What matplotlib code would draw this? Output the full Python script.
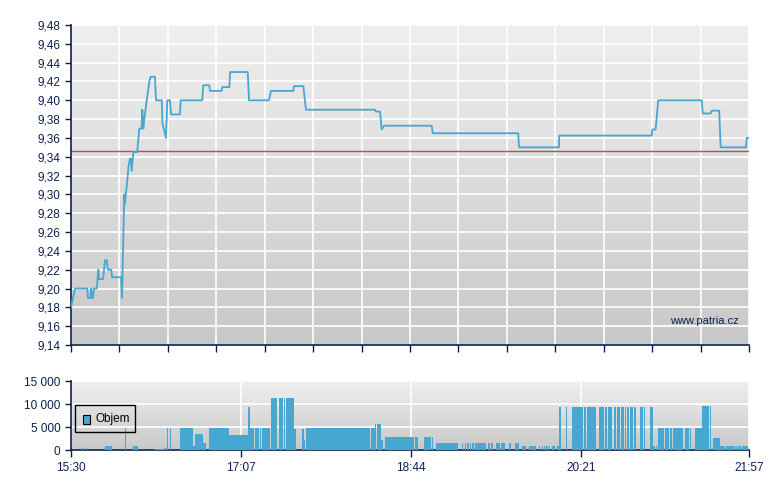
import matplotlib

matplotlib.use("Agg")
import matplotlib.pyplot as plt
import numpy as np
from matplotlib.colors import LinearSegmentedColormap
from matplotlib.patches import Rectangle

# price path, minutes after 15:30
price_min = [
    0, 2.3, 9.3, 9.7, 11, 11.5, 12, 12.6, 13, 14.7, 15.6, 16, 18.3, 19.4, 20.4,
    21.1, 23, 23.4, 28.6, 29.1, 30.4, 30.8, 32.4, 32.8, 33.7, 34.2, 34.6, 35.6,
    37.8, 39, 40.3, 40.7, 41.3, 41.8, 44.7, 45.5, 47.9, 48.5, 51.8, 52.2, 52.7,
    54.2, 55, 56.5, 57.1, 62.2, 62.6, 74.9, 75.5, 78.9, 79.3, 86, 86.4, 90.4,
    90.8, 100.9, 101.6, 113, 114.2, 126.9, 127.3, 132.6, 134.1, 173.5, 174,
    176.4, 177.3, 178.7, 205.9, 206.5, 255.3, 255.7, 278.5, 278.7, 331.5, 331.8,
    333.7, 335.2, 360, 360.6, 365.1, 365.7, 370, 370.8, 385.3, 385.7, 387,
]
price_val = [
    9.18, 9.20, 9.20, 9.19, 9.19, 9.20, 9.19, 9.19, 9.20, 9.20, 9.22, 9.21, 9.21,
    9.23, 9.23, 9.22, 9.22, 9.212, 9.212, 9.19, 9.30, 9.29, 9.32, 9.33, 9.338,
    9.338, 9.325, 9.345, 9.345, 9.37, 9.37, 9.39, 9.37, 9.38, 9.42, 9.425, 9.425,
    9.40, 9.40, 9.375, 9.372, 9.36, 9.40, 9.40, 9.385, 9.385, 9.40, 9.40, 9.416,
    9.416, 9.41, 9.41, 9.414, 9.414, 9.43, 9.43, 9.40, 9.40, 9.41, 9.41, 9.415,
    9.415, 9.39, 9.39, 9.388, 9.388, 9.369, 9.373, 9.373, 9.365, 9.365, 9.35,
    9.35, 9.3625, 9.3625, 9.369, 9.369, 9.40, 9.40, 9.386, 9.386, 9.389, 9.389,
    9.35, 9.35, 9.36, 9.36,
]
prev_close = 9.346

# volume bars: start / end minute, size
vol_start = [
    6.3, 8.8, 19.6, 29.97, 30.7, 32.4, 35.4, 47.9, 53.3, 55,
    56.5, 62.2, 69.6, 70.8, 75.3, 78.6, 79.3, 85.2, 90.4, 91.3,
    94.2, 95.9, 98.3, 99.5, 101, 102, 103.5, 105, 107.9, 109.2,
    114.2, 118.7, 121.4, 122.5, 125.2, 126.1, 127.1, 131.8, 133, 134.1,
    141.7, 143.4, 144.6, 146.3, 147.8, 154.3, 156, 157.7, 162.8, 165.7,
    171.1, 173.3, 174.7, 176.8, 179.2, 181, 188.5, 191.4, 194.2, 196.3,
    201.5, 206, 208.3, 210.9, 212.3, 213.5, 214.3, 216.3, 217.5, 218.6,
    223, 224.9, 225.8, 227.5, 228.9, 230.6, 231.3, 234.2, 235.3, 238,
    239.5, 242.6, 244, 245.3, 250, 253.4, 257.2, 261.4, 263.4, 264.4,
    267.1, 268.8, 270, 271.1, 272.6, 274.4, 277.2, 278.5, 282.5, 286,
    288.2, 291.3, 293, 294.5, 299.3, 301.2, 304.8, 306.5, 309.9, 311.5,
    313.9, 316.2, 317.2, 319.1, 321.2, 324.8, 326.1, 327.2, 330.5, 331.6,
    332.2, 333.9, 334.9, 339, 341.9, 343.4, 350.3, 353.5, 356.2, 358,
    360, 364.6, 366.3, 370.4, 373.9, 378.8, 380.7, 383.2, 386.8,
]
vol_end = [
    7.6, 9.2, 23.2, 30.25, 31.2, 32.8, 38.2, 53.3, 54.2, 55.5,
    57.1, 69.6, 70.8, 75.3, 77.2, 79.2, 85, 90.4, 91.2, 93.9,
    95.7, 98, 99.3, 100.9, 102, 103.1, 104.6, 107.5, 108.6, 113.6,
    117.6, 121, 122.1, 124.8, 126, 127.1, 128.4, 133, 133.6, 141.4,
    143.1, 144.2, 146.1, 147.7, 153.9, 155.7, 157.4, 162.7, 165.4, 170.8,
    173.3, 174.1, 176.8, 178.1, 180.8, 188.4, 191.2, 194.1, 195.6, 198.1,
    205.5, 206.6, 210.6, 212.2, 213.2, 214, 216.1, 217.2, 218.4, 220.7,
    223.7, 225.6, 227.2, 228.6, 230.3, 231.2, 234, 235.2, 236.9, 239.3,
    240.7, 243.7, 244.6, 247.7, 251.1, 255.9, 259.7, 263.1, 264.3, 265.4,
    267.7, 269.7, 270.8, 272.3, 273.4, 276.4, 278.5, 279.7, 283.2, 288.1,
    291.1, 292.4, 294, 298.9, 299.7, 304.4, 305.9, 308.8, 311.1, 313.5,
    315.5, 316.8, 318.7, 320.6, 322.5, 325.7, 326.7, 327.6, 331.5, 332.2,
    333.1, 334.6, 338.6, 341.5, 343, 349.5, 352.9, 353.9, 357.7, 360,
    364, 365.3, 370.4, 373.5, 378.3, 380.3, 382.4, 386.3, 387.4,
]
vol_size = [
    500, 500, 950, 300, 4800, 400, 950, 300, 500, 4800,
    4800, 4800, 950, 3500, 1600, 4800, 4800, 4800, 3200, 3200,
    3200, 3200, 3200, 3200, 9400, 4800, 4800, 4800, 4800, 4800,
    11300, 11300, 11300, 11300, 11300, 11300, 4500, 4500, 2200, 4800,
    4800, 4800, 4800, 4800, 4800, 4800, 4800, 4800, 4800, 4800,
    4800, 5600, 5600, 2100, 2850, 2850, 2850, 2850, 2850, 2850,
    2850, 2850, 1600, 1600, 1600, 1600, 1600, 1600, 1600, 1600,
    1600, 1600, 1600, 1600, 1600, 1600, 1600, 1600, 1600, 1600,
    1600, 1600, 1600, 1600, 1600, 1600, 950, 950, 950, 950,
    950, 950, 950, 950, 950, 950, 950, 9400, 9400, 9400,
    9400, 9400, 9400, 9400, 9400, 9400, 9400, 9400, 9400, 9400,
    9400, 9400, 9400, 9400, 9400, 9400, 9400, 9400, 9400, 9400,
    900, 900, 4800, 4800, 4800, 4800, 4800, 4800, 4800, 4800,
    9600, 9600, 2650, 950, 950, 950, 950, 950, 2850,
]

time_ticks = [0, 97, 194, 291, 387]
time_labels = ["15:30", "17:07", "18:44", "20:21", "21:57"]
price_ticks = np.round(np.arange(9.14, 9.481, 0.02), 2)
vol_ticks = [0, 5000, 10000, 15000]
vol_labels = ["0", "5 000", "10 000", "15 000"]

NAVY = "#0b1f4f"
BLUE = "#46a7d0"
plt.rcParams["font.family"] = ["Liberation Sans", "DejaVu Sans"]

bg = LinearSegmentedColormap.from_list("bg", ["#c8c8c8", "#efefef"])


def shade(ax):
    grad = np.linspace(0, 1, 256).reshape(-1, 1)
    ax.imshow(grad, cmap=bg, aspect="auto", extent=(0, 1, 0, 1), origin="lower",
              transform=ax.transAxes, zorder=0)
    for side in ("top", "right"):
        ax.spines[side].set_visible(False)
    for side in ("left", "bottom"):
        ax.spines[side].set_color(NAVY)
        ax.spines[side].set_linewidth(1.2)
    ax.tick_params(colors=NAVY, labelcolor=NAVY, labelsize=8.5, length=4, width=1)


fig = plt.figure(figsize=(7.8, 4.9), dpi=100)
ax = fig.add_axes([71 / 780, 1 - 345 / 490, 678 / 780, 320 / 490])
axv = fig.add_axes([71 / 780, 1 - 450 / 490, 678 / 780, 69 / 490])

shade(ax)
ax.set_xlim(0, 387)
ax.set_ylim(9.14, 9.48)
ax.set_yticks(price_ticks)
ax.set_yticklabels([f"{v:.2f}".replace(".", ",") for v in price_ticks])
ax.set_xticks(np.linspace(0, 387, 15))
ax.set_xticklabels([])
ax.tick_params(axis="x", length=5)
ax.grid(color="white", linewidth=1.2, zorder=1)
ax.set_axisbelow(True)
ax.axhline(prev_close, color="#c84848", linewidth=1, zorder=2)
ax.plot(price_min, price_val, color=BLUE, linewidth=1.3, zorder=3)
ax.text(0.985, 0.06, "www.patria.cz", transform=ax.transAxes, ha="right", va="bottom",
        fontsize=8, color=NAVY)

shade(axv)
axv.set_xlim(0, 387)
axv.set_ylim(0, 15000)
axv.set_yticks(vol_ticks)
axv.set_yticklabels(vol_labels)
axv.set_xticks(time_ticks)
axv.set_xticklabels(time_labels)
axv.tick_params(axis="x", length=5)
axv.grid(color="white", linewidth=1.2, zorder=1)
axv.set_axisbelow(True)
widths = [e - s for s, e in zip(vol_start, vol_end)]
axv.bar(vol_start, vol_size, width=widths, align="edge", color=BLUE, linewidth=0, zorder=3)

# legend box
axv.add_patch(Rectangle((4 / 678, 18 / 69), 60 / 678, 27 / 69, transform=axv.transAxes,
                        facecolor="none", edgecolor="black", linewidth=1, zorder=5))
axv.add_patch(Rectangle((12 / 678, 26 / 69), 7 / 678, 9 / 69, transform=axv.transAxes,
                        facecolor=BLUE, edgecolor="black", linewidth=0.8, zorder=5))
axv.text(24 / 678, 31 / 69, "Objem", transform=axv.transAxes, va="center", ha="left",
         fontsize=8.5, color="black", zorder=5)

fig.savefig("out.png", dpi=100)
